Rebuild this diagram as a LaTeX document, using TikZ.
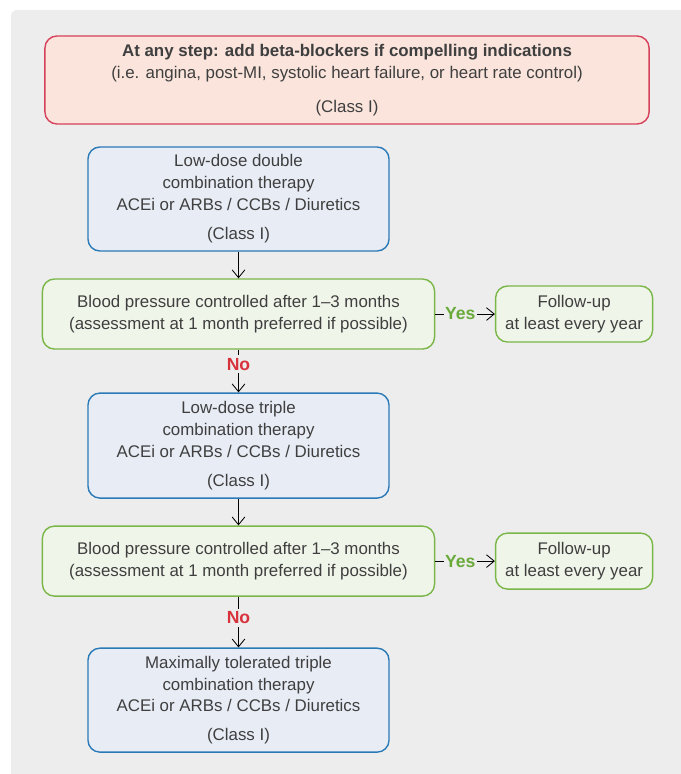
\documentclass[tikz,border=0pt]{standalone}
\usepackage{fontspec}
\setmainfont{Liberation Sans}
\usepackage{xcolor}
\usetikzlibrary{positioning,arrows.meta}

\definecolor{panelgray}{HTML}{ECEDEC}
\definecolor{inktext}{HTML}{3F3F3F}
\definecolor{warnfill}{HTML}{FAE4DC}
\definecolor{warnline}{HTML}{D6405A}
\definecolor{stepfill}{HTML}{E8ECF5}
\definecolor{stepline}{HTML}{2A7AB8}
\definecolor{checkfill}{HTML}{F0F5E9}
\definecolor{checkline}{HTML}{7AB648}
\definecolor{yesgreen}{HTML}{6AAA3A}
\definecolor{nored}{HTML}{D8323C}

\begin{document}
\begin{tikzpicture}[
  x=0.025cm, y=-0.025cm,
  >={Straight Barb[length=5.5pt,width=9pt]},
  node distance=0.665cm and 1.49cm,
  font=\fontsize{12}{15.6}\selectfont, text=inktext,
  warnbox/.style={rectangle, rounded corners=0.3cm, draw=warnline, fill=warnfill, line width=1pt, align=center, minimum width=15.1cm, minimum height=2.2cm, inner sep=2pt},
  stepbox/.style={rectangle, rounded corners=0.3cm, draw=stepline, fill=stepfill, line width=1pt, align=center, minimum width=7.525cm, minimum height=2.6cm, inner sep=2pt},
  checkbox/.style={rectangle, rounded corners=0.3cm, draw=checkline, fill=checkfill, line width=1pt, align=center, minimum width=9.8cm, minimum height=1.75cm, inner sep=2pt},
  fubox/.style={rectangle, rounded corners=0.3cm, draw=checkline, fill=checkfill, line width=1pt, align=center, minimum width=3.925cm, minimum height=1.4cm, inner sep=2pt},
  yeslab/.style={font=\fontsize{12.5}{14}\selectfont\bfseries, text=yesgreen, fill=panelgray, inner sep=0.8pt},
  nolab/.style={font=\fontsize{12.5}{14}\selectfont\bfseries, text=nored, fill=panelgray, inner sep=2pt},
  link/.style={->, line width=0.6pt, draw=black}
]
\useasboundingbox (0,0) rectangle (680,774);
\fill[panelgray, rounded corners=0.15cm] (11,10) rectangle (720,820);

\node[warnbox] (beta) at (347,80) {\textbf{At any step: add beta-blockers if compelling indications}\\
  (i.e. angina, post-MI, systolic heart failure, or heart rate control)\\[9pt]
  (Class I)};
\node[stepbox] (double) at (238.5,199) {Low-dose double\\ combination therapy\\ ACEi or ARBs / CCBs / Diuretics\\[5pt] (Class I)};
\node[checkbox, below=of double] (bp1) {Blood pressure controlled after 1--3 months\\ (assessment at 1 month preferred if possible)};
\node[fubox, right=of bp1] (fu1) {Follow-up\\ at least every year};
\node[stepbox, below=1.065cm of bp1, minimum height=2.625cm] (triple) {Low-dose triple\\ combination therapy\\ ACEi or ARBs / CCBs / Diuretics\\[5pt] (Class I)};
\node[checkbox, below=of triple] (bp2) {Blood pressure controlled after 1--3 months\\ (assessment at 1 month preferred if possible)};
\node[fubox, right=of bp2] (fu2) {Follow-up\\ at least every year};
\node[stepbox, below=1.265cm of bp2] (maxi) {Maximally tolerated triple\\ combination therapy\\ ACEi or ARBs / CCBs / Diuretics\\[5pt] (Class I)};

\draw[link] (double) -- (bp1);
\draw[link] (bp1) -- node[yeslab, pos=0.42] {Yes} (fu1);
\draw[link] (bp1) -- node[nolab, pos=0.34] {No} (triple);
\draw[link] (triple) -- (bp2);
\draw[link] (bp2) -- node[yeslab, pos=0.42] {Yes} (fu2);
\draw[link] (bp2) -- node[nolab, pos=0.41] {No} (maxi);
\end{tikzpicture}
\end{document}
